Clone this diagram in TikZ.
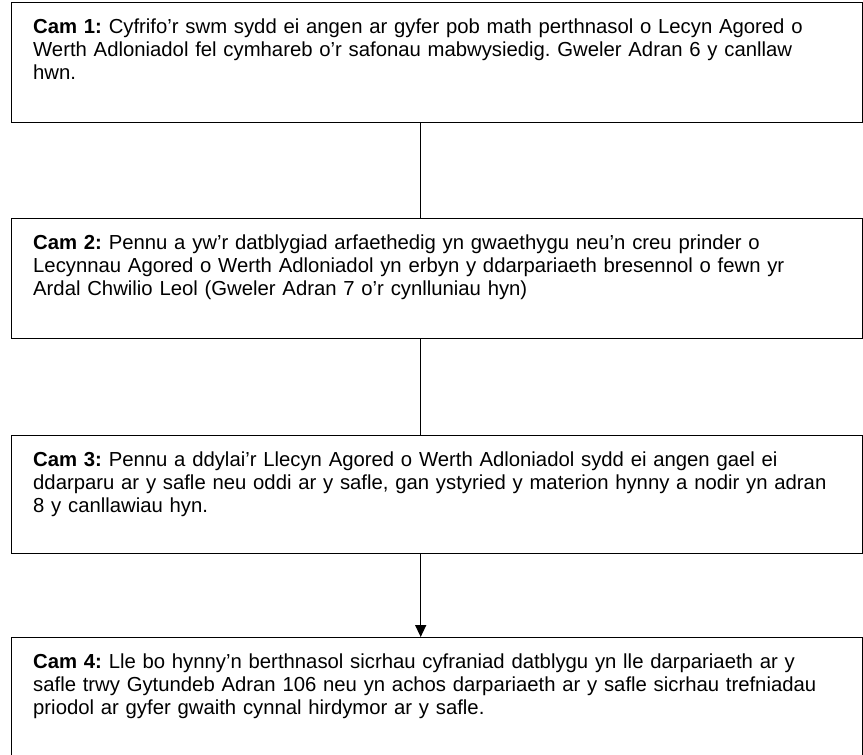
\documentclass[tikz,border=0pt]{standalone}
\usepackage{fontspec}
\setmainfont{Liberation Sans}
\usetikzlibrary{arrows.meta}
\frenchspacing
\tikzset{
  stepbox/.style={draw=black, line width=1.4pt, rectangle, anchor=north west, minimum width=851pt, minimum height=120pt, inner sep=0pt},
  steptext/.style={anchor=north west, inner sep=0pt, align=left, text width=830pt, font=\fontsize{20.3}{23.4}\selectfont\frenchspacing},
  link/.style={line width=1.4pt, draw=black},
}
\begin{document}
\begin{tikzpicture}[x=1pt,y=-1pt]
\useasboundingbox (0,0) rectangle (863,755);
\node[stepbox] (b1) at (11,2) {};
\node[stepbox] (b2) at (11,218) {};
\node[stepbox, minimum height=118pt] (b3) at (11,435) {};
\node[stepbox] (b4) at (11,637) {};
\node[steptext] (t1) at ([xshift=22pt,yshift=-14.6pt]b1.north west) {\strut\textbf{Cam 1:} Cyfrifo’r swm sydd ei angen ar gyfer pob math perthnasol o Lecyn Agored o\\Werth Adloniadol fel cymhareb o’r safonau mabwysiedig. Gweler Adran 6 y canllaw\\hwn.};
\node[steptext] (t2) at ([xshift=22pt,yshift=-14.6pt]b2.north west) {\strut\textbf{Cam 2:} Pennu a yw’r datblygiad arfaethedig yn gwaethygu neu’n creu prinder o\\Lecynnau Agored o Werth Adloniadol yn erbyn y ddarpariaeth bresennol o fewn yr\\Ardal Chwilio Leol (Gweler Adran 7 o’r cynlluniau hyn)};
\node[steptext] (t3) at ([xshift=22pt,yshift=-14.6pt]b3.north west) {\strut\textbf{Cam 3:} Pennu a ddylai’r Llecyn Agored o Werth Adloniadol sydd ei angen gael ei\\ddarparu ar y safle neu oddi ar y safle, gan ystyried y materion hynny a nodir yn adran\\8 y canllawiau hyn.};
\node[steptext] (t4) at ([xshift=22pt,yshift=-14.6pt]b4.north west) {\strut\textbf{Cam 4:} Lle bo hynny’n berthnasol sicrhau cyfraniad datblygu yn lle darpariaeth ar y\\safle trwy Gytundeb Adran 106 neu yn achos darpariaeth ar y safle sicrhau trefniadau\\priodol ar gyfer gwaith cynnal hirdymor ar y safle.};
\draw[link] ([xshift=-16.5pt]b1.south) -- ([xshift=-16.5pt]b2.north);
\draw[link] ([xshift=-16.5pt]b2.south) -- ([xshift=-16.5pt]b3.north);
\draw[link, -{Triangle[length=12pt,width=11pt]}] ([xshift=-16.5pt]b3.south) -- ([xshift=-16.5pt]b4.north);
\end{tikzpicture}
\end{document}
